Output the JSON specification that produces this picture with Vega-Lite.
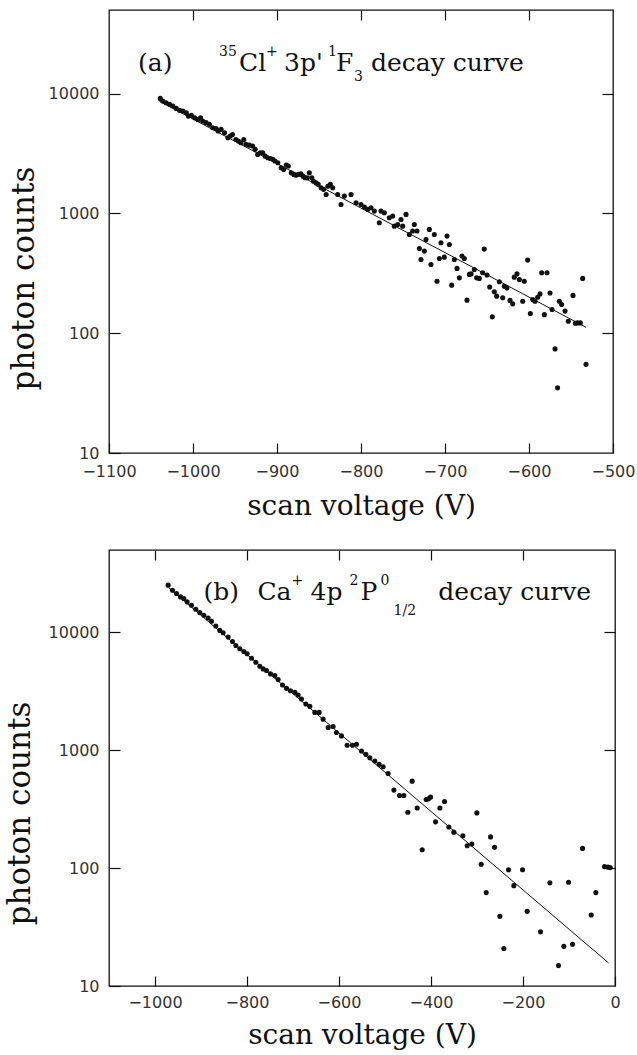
{
  "$schema": "https://vega.github.io/schema/vega-lite/v6.json",
  "background": "white",
  "padding": {"left": 3, "top": 8, "right": 10, "bottom": 2},
  "config": {
    "view": {"stroke": "#111", "strokeWidth": 1.3},
    "axis": {"domain": false, "grid": false, "labelFont": "DejaVu Sans", "labelFontSize": 16, "labelColor": "#333", "labelFlush": false, "labelOverlap": false, "tickColor": "#111", "tickWidth": 1.2, "titleFont": "DejaVu Serif", "titleFontSize": 28, "titleFontWeight": "normal", "titleColor": "#111"},
    "axisLeft": {"titleFontSize": 31},
    "text": {"font": "DejaVu Serif", "color": "#111"}
  },
  "datasets": {
    "a_pts": [
      {"v":-1039,"c":9140},{"v":-1036,"c":8690},{"v":-1032,"c":8410},{"v":-1028,"c":8150},{"v":-1024,"c":7890},{"v":-1020,"c":7540},{"v":-1016,"c":7260},{"v":-1012,"c":7170},{"v":-1008,"c":6940},{"v":-1005.5,"c":6500},{"v":-1002,"c":6590},{"v":-998,"c":6300},{"v":-994,"c":6100},{"v":-991,"c":6300},{"v":-988.5,"c":5910},{"v":-984.5,"c":5730},{"v":-980.5,"c":5550},{"v":-976.5,"c":5200},{"v":-972.5,"c":5130},{"v":-970,"c":4880},{"v":-966.5,"c":5040},{"v":-962.5,"c":4720},{"v":-958.5,"c":4290},{"v":-955.5,"c":4430},{"v":-953,"c":4570},{"v":-949,"c":4150},{"v":-946,"c":4020},{"v":-943,"c":3890},{"v":-939.5,"c":4150},{"v":-937,"c":3780},{"v":-933,"c":3720},{"v":-929,"c":3660},{"v":-926,"c":3430},{"v":-923,"c":3110},{"v":-920,"c":3210},{"v":-917,"c":3210},{"v":-914,"c":3010},{"v":-911,"c":2920},{"v":-908,"c":2880},{"v":-905,"c":2830},{"v":-902.5,"c":2740},{"v":-899,"c":2650},{"v":-895,"c":2410},{"v":-892,"c":2330},{"v":-889,"c":2540},{"v":-886.5,"c":2490},{"v":-883,"c":2190},{"v":-880,"c":2120},{"v":-877.5,"c":2090},{"v":-874.5,"c":2120},{"v":-871.5,"c":2140},{"v":-869,"c":2050},{"v":-866.5,"c":1990},{"v":-864,"c":1990},{"v":-861.5,"c":2190},{"v":-858.5,"c":1990},{"v":-856.5,"c":1860},{"v":-853.5,"c":1800},{"v":-851,"c":1750},{"v":-847.5,"c":1640},{"v":-844.5,"c":1590},{"v":-841.5,"c":1440},{"v":-839.5,"c":1690},{"v":-836.5,"c":1750},
      {"v":-833.7,"c":1641},{"v":-827.8,"c":1442},{"v":-823.8,"c":1190},{"v":-819.8,"c":1396},{"v":-811.9,"c":1442},{"v":-805.9,"c":1228},{"v":-800,"c":1190},{"v":-796,"c":1130},{"v":-792.1,"c":1081},{"v":-788.1,"c":1117},{"v":-784.1,"c":1047},{"v":-778.2,"c":836},{"v":-776.2,"c":1047},{"v":-772.2,"c":1014},{"v":-766.3,"c":921},{"v":-762.3,"c":951},{"v":-760.3,"c":784},{"v":-756.3,"c":809},{"v":-752.4,"c":891},{"v":-750.4,"c":784},{"v":-746.4,"c":982},{"v":-742.4,"c":668},{"v":-738.5,"c":713},{"v":-736.5,"c":809},{"v":-733.3,"c":713},
      {"v":-730.5,"c":510},{"v":-728.6,"c":413},{"v":-724.6,"c":485},{"v":-722.6,"c":607},{"v":-718.6,"c":736},{"v":-716.7,"c":375},{"v":-712.7,"c":668},{"v":-709.5,"c":272},{"v":-706.7,"c":421},{"v":-704.8,"c":569},{"v":-700.8,"c":432},{"v":-697.6,"c":647},{"v":-694.8,"c":551},{"v":-692.1,"c":252},{"v":-688.9,"c":413},{"v":-685.7,"c":348},{"v":-682.9,"c":290},{"v":-679.8,"c":441},{"v":-677,"c":421},{"v":-673.8,"c":189},{"v":-671,"c":310},{"v":-669,"c":313},{"v":-665.1,"c":341},{"v":-662.3,"c":290},{"v":-659.1,"c":287},{"v":-655.2,"c":320},{"v":-653.2,"c":504},{"v":-650,"c":306},{"v":-646.8,"c":243},{"v":-643.7,"c":137},{"v":-641.3,"c":222},{"v":-638.5,"c":204},{"v":-635.3,"c":269},{"v":-631.3,"c":198},{"v":-629.4,"c":247},{"v":-626.2,"c":239},{"v":-622.6,"c":188},{"v":-619.4,"c":176},{"v":-617.5,"c":294},{"v":-614.3,"c":313},{"v":-611.5,"c":281},{"v":-607.5,"c":185},{"v":-605.6,"c":272},{"v":-601.6,"c":408},{"v":-598.4,"c":146},{"v":-595.6,"c":191},{"v":-592.9,"c":185},{"v":-589.7,"c":200},{"v":-586.9,"c":213},{"v":-584.9,"c":320},{"v":-581.7,"c":143},{"v":-578.6,"c":320},{"v":-575,"c":217},{"v":-572.6,"c":158},{"v":-569,"c":74},{"v":-566,"c":35},{"v":-563.9,"c":185},{"v":-561.1,"c":174},{"v":-557.1,"c":153},{"v":-553.2,"c":126},{"v":-547.6,"c":207},{"v":-544.8,"c":121},{"v":-542.1,"c":122},{"v":-538.9,"c":122},{"v":-536.1,"c":287},{"v":-532.1,"c":55}
    ],
    "a_fit": [{"v":-1040,"c":8650},{"v":-532,"c":112}],
    "a_txt": [
      {"x":-1065.5,"y":15500,"t":"(a)","k":"main"},
      {"x":-969,"y":20650,"t":"35","k":"sup"},
      {"x":-945.2,"y":15500,"t":"Cl","k":"main"},
      {"x":-913.1,"y":20650,"t":"+","k":"sup"},
      {"x":-891.7,"y":15500,"t":"3p'","k":"main"},
      {"x":-839.3,"y":20650,"t":"1","k":"sup"},
      {"x":-829.8,"y":15500,"t":"F","k":"main"},
      {"x":-808.3,"y":12760,"t":"3","k":"sub"},
      {"x":-788.1,"y":15500,"t":"decay curve","k":"main"}
    ],
    "b_pts": [
      {"v":-971.4,"c":25170},{"v":-962,"c":22800},{"v":-953.3,"c":21380},{"v":-944.6,"c":20000},{"v":-937.4,"c":19360},{"v":-930.1,"c":18150},{"v":-920.7,"c":16980},{"v":-911.3,"c":15700},{"v":-902.6,"c":14720},{"v":-893.9,"c":13960},{"v":-884.5,"c":13250},{"v":-877.2,"c":12420},{"v":-867.8,"c":11330},{"v":-859.1,"c":10400},{"v":-851.9,"c":9930},{"v":-841,"c":9120},{"v":-831.6,"c":8375},{"v":-824.3,"c":7745},{"v":-815.6,"c":7260},{"v":-806.9,"c":6890},{"v":-799.7,"c":6580},{"v":-790.2,"c":6040},{"v":-780.8,"c":5585},{"v":-772.1,"c":5165},{"v":-764.9,"c":4900},{"v":-757.6,"c":4745},{"v":-748.9,"c":4445},{"v":-739.5,"c":4300},{"v":-732.3,"c":3975},{"v":-722.8,"c":3580},{"v":-714.1,"c":3350},{"v":-705.5,"c":3200},{"v":-696,"c":3100},{"v":-688.8,"c":2943},{"v":-681.6,"c":2718},{"v":-672.1,"c":2466},{"v":-663.4,"c":2355},{"v":-652.6,"c":2094},{"v":-643.2,"c":2094},{"v":-634.5,"c":1837},{"v":-623.6,"c":1560},{"v":-612.8,"c":1590},{"v":-605.5,"c":1413},{"v":-594.6,"c":1324},{"v":-582.3,"c":1103},{"v":-570.7,"c":1103},{"v":-562,"c":1125},{"v":-551.1,"c":986},{"v":-541.7,"c":923},{"v":-533,"c":865},{"v":-522.2,"c":810},{"v":-512.8,"c":759},{"v":-504.1,"c":725},{"v":-493.2,"c":636},
      {"v":-480.7,"c":459},{"v":-468.4,"c":413},{"v":-459,"c":413},{"v":-450.3,"c":298},{"v":-440.9,"c":547},{"v":-430,"c":324},{"v":-419.1,"c":143},{"v":-410.4,"c":382},{"v":-405.4,"c":387},{"v":-401,"c":400},{"v":-390.1,"c":247},{"v":-380.7,"c":324},{"v":-370.6,"c":367},{"v":-361.2,"c":223},{"v":-350.3,"c":202},{"v":-330.7,"c":188},{"v":-321.3,"c":155},{"v":-311.2,"c":160},{"v":-300.3,"c":294},{"v":-290.9,"c":108},{"v":-280,"c":62},{"v":-270.6,"c":184},{"v":-261.9,"c":150},{"v":-250.3,"c":39},{"v":-241.6,"c":20.8},{"v":-231.5,"c":97},{"v":-219.9,"c":71},{"v":-201,"c":97},{"v":-190.9,"c":43},{"v":-161.9,"c":28.8},{"v":-141.6,"c":75},{"v":-122.8,"c":14.9},{"v":-111.2,"c":21.7},{"v":-101,"c":76},{"v":-92.3,"c":22.6},{"v":-70.6,"c":147},{"v":-51.7,"c":40},{"v":-41.6,"c":62},{"v":-22.8,"c":103},{"v":-15.5,"c":102},{"v":-10.4,"c":101}
    ],
    "b_fit": [{"v":-970,"c":23900},{"v":-14,"c":15.7}],
    "b_txt": [
      {"x":-894.6,"y":18740,"t":"(b)","k":"main"},
      {"x":-777.2,"y":18740,"t":"Ca","k":"main"},
      {"x":-703.3,"y":25200,"t":"+","k":"sup"},
      {"x":-661.9,"y":18740,"t":"4p","k":"main"},
      {"x":-577.2,"y":25200,"t":"2","k":"sup"},
      {"x":-553.3,"y":18740,"t":"P","k":"main"},
      {"x":-509.8,"y":25200,"t":"0","k":"sup"},
      {"x":-481.5,"y":13960,"t":"1/2","k":"sub"},
      {"x":-384,"y":18740,"t":"decay curve","k":"main"}
    ]
  },
  "concat": [
    {
      "width": 504,
      "height": 443,
      "layer": [
        {
          "data": {"name": "a_pts"},
          "mark": {"type": "circle", "size": 26, "color": "#111", "opacity": 1},
          "encoding": {
            "x": {"field": "v", "type": "quantitative", "scale": {"domain": [-1100, -500], "nice": false, "zero": false},
                  "axis": {"orient": "bottom", "values": [-1100, -1000, -900, -800, -700, -600, -500], "format": "d", "tickSize": -10, "labelPadding": 20, "title": "scan voltage (V)", "titlePadding": 13}},
            "y": {"field": "c", "type": "quantitative", "scale": {"type": "log", "domain": [10, 50000], "nice": false},
                  "axis": {"orient": "left", "values": [10, 100, 1000, 10000], "format": "d", "tickSize": -11, "labelPadding": 21, "title": "photon counts", "titlePadding": 8, "titleY": 268}}
          }
        },
        {
          "data": {"name": "a_fit"},
          "mark": {"type": "line", "color": "#111", "strokeWidth": 1},
          "encoding": {
            "x": {"field": "v", "type": "quantitative", "axis": {"orient": "top", "values": [-1000, -900, -800, -700, -600], "labels": false, "tickSize": -10, "title": null}},
            "y": {"field": "c", "type": "quantitative", "axis": {"orient": "right", "values": [100, 1000, 10000], "labels": false, "tickSize": -11, "title": null}}
          }
        },
        {
          "data": {"name": "a_txt"},
          "transform": [{"filter": "datum.k === 'main'"}],
          "mark": {"type": "text", "fontSize": 25, "align": "left", "baseline": "alphabetic"},
          "encoding": {"x": {"field": "x", "type": "quantitative", "axis": null}, "y": {"field": "y", "type": "quantitative", "axis": null}, "text": {"field": "t"}}
        },
        {
          "data": {"name": "a_txt"},
          "transform": [{"filter": "datum.k !== 'main'"}],
          "mark": {"type": "text", "fontSize": 14, "align": "left", "baseline": "alphabetic"},
          "encoding": {"x": {"field": "x", "type": "quantitative", "axis": null}, "y": {"field": "y", "type": "quantitative", "axis": null}, "text": {"field": "t"}}
        }
      ],
      "resolve": {"axis": {"x": "independent", "y": "independent"}}
    },
    {
      "width": 506,
      "height": 436,
      "layer": [
        {
          "data": {"name": "b_pts"},
          "mark": {"type": "circle", "size": 26, "color": "#111", "opacity": 1},
          "encoding": {
            "x": {"field": "v", "type": "quantitative", "scale": {"domain": [-1100, 0], "nice": false, "zero": false},
                  "axis": {"orient": "bottom", "values": [-1000, -800, -600, -400, -200, 0], "format": "d", "tickSize": -10, "labelPadding": 18, "title": "scan voltage (V)", "titlePadding": 11}},
            "y": {"field": "c", "type": "quantitative", "scale": {"type": "log", "domain": [10, 50000], "nice": false},
                  "axis": {"orient": "left", "values": [10, 100, 1000, 10000], "format": "d", "tickSize": -11, "labelPadding": 21, "title": "photon counts", "titlePadding": 12, "titleY": 263}}
          }
        },
        {
          "data": {"name": "b_fit"},
          "mark": {"type": "line", "color": "#111", "strokeWidth": 1},
          "encoding": {
            "x": {"field": "v", "type": "quantitative", "axis": {"orient": "top", "values": [-1000, -800, -600, -400, -200], "labels": false, "tickSize": -10, "title": null}},
            "y": {"field": "c", "type": "quantitative", "axis": {"orient": "right", "values": [100, 1000, 10000], "labels": false, "tickSize": -11, "title": null}}
          }
        },
        {
          "data": {"name": "b_txt"},
          "transform": [{"filter": "datum.k === 'main'"}],
          "mark": {"type": "text", "fontSize": 25, "align": "left", "baseline": "alphabetic"},
          "encoding": {"x": {"field": "x", "type": "quantitative", "axis": null}, "y": {"field": "y", "type": "quantitative", "axis": null}, "text": {"field": "t"}}
        },
        {
          "data": {"name": "b_txt"},
          "transform": [{"filter": "datum.k !== 'main'"}],
          "mark": {"type": "text", "fontSize": 14, "align": "left", "baseline": "alphabetic"},
          "encoding": {"x": {"field": "x", "type": "quantitative", "axis": null}, "y": {"field": "y", "type": "quantitative", "axis": null}, "text": {"field": "t"}}
        }
      ],
      "resolve": {"axis": {"x": "independent", "y": "independent"}}
    }
  ],
  "columns": 1,
  "spacing": 27,
  "align": "none"
}
